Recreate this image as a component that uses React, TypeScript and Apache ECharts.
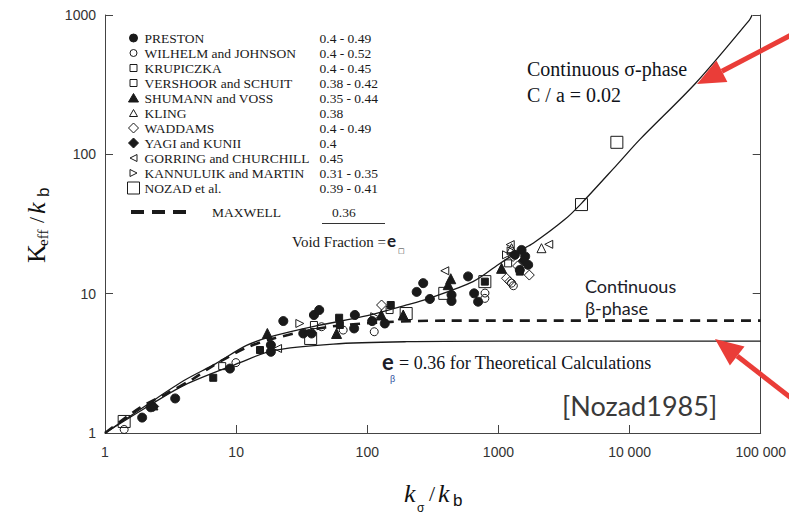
import React, { useEffect, useRef } from "react";
import * as echarts from "echarts";

// ---------- data ----------
const xTickLabels = ["1", "10", "100", "1000", "10 000", "100 000"];
const yTickLabels = ["1", "10", "100", "1000"];

const seriesNames = [
  "PRESTON",
  "WILHELM and JOHNSON",
  "KRUPICZKA",
  "VERSHOOR and SCHUIT",
  "SHUMANN and VOSS",
  "KLING",
  "WADDAMS",
  "YAGI and KUNII",
  "GORRING and CHURCHILL",
  "KANNULUIK and MARTIN",
  "NOZAD et al.",
];
const voidRanges = [
  "0.4 - 0.49",
  "0.4 - 0.52",
  "0.4 - 0.45",
  "0.38 - 0.42",
  "0.35 - 0.44",
  "0.38",
  "0.4 - 0.49",
  "0.4",
  "0.45",
  "0.31 - 0.35",
  "0.39 - 0.41",
];
const maxwellName = "MAXWELL";
const maxwellRange = "0.36";

const prestonData = [
  [1.92, 1.29], [2.23, 1.53], [3.43, 1.77], [8.97, 2.9], [18.4, 4.28], [18.4, 3.83],
  [22.9, 6.36], [32.5, 5.18], [37.6, 5.18], [39.2, 7.03], [43, 7.63], [79.4, 5.63],
  [80.4, 7.03], [109, 6.36], [136, 6.11], [238, 10.3], [267, 11.9], [300, 9.16],
  [439, 9.8], [439, 8.86], [587, 13.3], [653, 10.05], [700, 8.76], [1334, 19],
  [1456, 14.8], [1500, 20.6], [1686, 16.1], [1600, 18.5],
];
const wilhelmData = [
  [1.4, 1.06], [9.96, 3.2], [44.8, 5.79], [65.5, 5.48], [113, 5.33], [788, 9.25],
  [790, 10.1], [1259, 11.9], [1300, 11.4],
];
const krupiczkaData = [[7.83, 3.02], [39.2, 5.96], [148, 7.63], [1186, 16.5]];
const vershoorData = [
  [6.69, 2.49], [15.2, 3.94], [61, 6.72], [61.8, 5.96], [151, 8.29], [788, 12.2],
  [1456, 14.4],
];
const shumannData = [
  [2.32, 1.59], [17.3, 5.18], [58.3, 5.18], [128, 7.03], [188, 7.03], [414, 11.6],
  [433, 12.8], [1057, 15.2],
];
const klingData = [[1259, 21.2], [2130, 21.2]];
const waddamsData = [[128.5, 8.29], [1153, 12.9], [1220, 12.2], [1294, 18.5], [1720, 13.6], [1400, 15.8]];
const yagiData = [[2.35, 1.55], [1545, 17.2]];
const gorringData = [[20.7, 4.04], [390, 14.6], [1230, 22.5], [2420, 22.6]];
const kannuluikData = [[30.6, 6.11], [114, 6.83], [1153, 19], [1250, 20.3]];
const nozadData = [
  [1.4, 1.21], [37, 4.77], [198, 7.2], [390, 10.05], [788, 12.2], [4300, 43.6], [8000, 122],
];

const sigmaPhaseCurve = [
  [1, 1], [2, 1.55], [4, 2.38], [7, 3.15], [12, 4.25], [19, 4.95], [40, 5.85], [100, 6.95],
  [200, 8.3], [300, 9.3], [640, 12.2], [1000, 16.2], [1450, 20.3], [1840, 23], [3200, 34],
  [4300, 44.5], [8000, 84], [12000, 128], [32000, 325], [82000, 920], [86000, 1000],
];
const maxwellCurve = [
  [1, 1], [1.85, 1.52], [2.95, 1.92], [4.7, 2.45], [6.7, 3.05], [12, 4.1], [19, 4.75],
  [49, 5.75], [140, 6.25], [400, 6.4], [100000, 6.4],
];
const betaPhaseCurve = [
  [1, 1], [2, 1.5], [4, 2.2], [10.7, 3.2], [19, 3.9], [55, 4.35], [200, 4.52], [1000, 4.56],
  [100000, 4.56],
];

const datasets = [
  prestonData, wilhelmData, krupiczkaData, vershoorData, shumannData, klingData,
  waddamsData, yagiData, gorringData, kannuluikData, nozadData,
];

// ---------- styles ----------
const INK = "#1a1a1a";
const OPEN = "rgba(0,0,0,0)";
const SERIF = '"Liberation Serif", "Times New Roman", serif';
const SANS = '"Liberation Sans", Arial, sans-serif';
const HUMAN = 'Lato, "Open Sans", sans-serif';
const RED = "#ea3d38";
const PAD = "M0,0M12,12";

const markerDefs = [
  { symbol: "circle", size: 9, fill: INK, icon: `path://${PAD}M2,6A4,4,0,1,1,10,6A4,4,0,1,1,2,6Z` },
  { symbol: "circle", size: 8, fill: OPEN, icon: `path://${PAD}M2.5,6A3.5,3.5,0,1,1,9.5,6A3.5,3.5,0,1,1,2.5,6Z` },
  { symbol: "rect", size: 7, fill: OPEN, icon: `path://${PAD}M2.5,2.5L9.5,2.5L9.5,9.5L2.5,9.5Z` },
  { symbol: "rect", size: 7, fill: INK, icon: `path://${PAD}M2.5,2.5L9.5,2.5L9.5,9.5L2.5,9.5Z`, legendFill: OPEN },
  { symbol: "triangle", size: 10, fill: INK, icon: `path://${PAD}M6,1.5L11,10L1,10Z` },
  { symbol: "triangle", size: 9, fill: OPEN, icon: `path://${PAD}M6,2.5L10,9.5L2,9.5Z` },
  { symbol: "diamond", size: 10, fill: OPEN, icon: `path://${PAD}M6,1L11,6L6,11L1,6Z` },
  { symbol: "diamond", size: 10, fill: INK, icon: `path://${PAD}M6,1L11,6L6,11L1,6Z` },
  { symbol: "path://M10,0L0,5L10,10Z", size: 8, fill: OPEN, icon: `path://${PAD}M9.5,2.5L2.5,6L9.5,9.5Z` },
  { symbol: "path://M0,0L10,5L0,10Z", size: 8, fill: OPEN, icon: `path://${PAD}M2.5,2.5L9.5,6L2.5,9.5Z` },
  { symbol: "rect", size: 12, fill: OPEN, icon: "rect" },
];

function buildOption() {
  const scatterSeries = seriesNames.map((name, i) => ({
    name,
    type: "scatter",
    data: datasets[i],
    symbol: markerDefs[i].symbol,
    symbolSize: markerDefs[i].size,
    itemStyle: { color: markerDefs[i].fill, borderColor: INK, borderWidth: 1, opacity: 1 },
    z: 4,
    silent: true,
  }));

  const curve = (name, data, lineStyle) => ({
    name,
    type: "line",
    data,
    smooth: 0.3,
    symbol: "none",
    lineStyle,
    itemStyle: { color: INK },
    z: 3,
    silent: true,
  });

  const richLegend = {
    n: { width: 175, fontFamily: SERIF, fontSize: 13.5, lineHeight: 15, color: INK },
    v: { fontFamily: SERIF, fontSize: 13.5, lineHeight: 15, color: INK },
    s: { width: 21, fontSize: 13.5, lineHeight: 15 },
    m: { width: 120, fontFamily: SERIF, fontSize: 13.5, lineHeight: 15, color: INK },
  };

  const arrow = (tail, tip, b1, b2) => [
    { type: "line", shape: { x1: tail[0], y1: tail[1], x2: (b1[0] + b2[0]) / 2, y2: (b1[1] + b2[1]) / 2 }, style: { stroke: RED, lineWidth: 5 }, z: 10 },
    { type: "polygon", shape: { points: [tip, b1, b2] }, style: { fill: RED }, z: 10 },
  ];

  const txt = (x, y, text, font, fill = INK, extra = {}) => ({
    type: "text",
    x,
    y,
    style: { text, font, fill, verticalAlign: "middle", align: "left", ...extra },
    z: 8,
  });

  return {
    animation: false,
    backgroundColor: "#fff",
    grid: { left: 105, right: 28, top: 15, bottom: 86, containLabel: false },
    xAxis: {
      type: "log",
      logBase: 10,
      min: 1,
      max: 100000,
      splitNumber: 5,
      axisLine: { show: true, lineStyle: { color: "#444", width: 1 } },
      axisTick: { show: true, inside: true, length: 8, lineStyle: { color: "#444" } },
      minorTick: { show: false },
      splitLine: { show: false },
      axisLabel: {
        margin: 12,
        fontFamily: SANS,
        fontSize: 14,
        color: "#333",
        formatter: (v) => xTickLabels[Math.round(Math.log10(v))],
      },
    },
    yAxis: [
      {
        type: "log",
        logBase: 10,
        min: 1,
        max: 1000,
        splitNumber: 3,
        axisLine: { show: true, lineStyle: { color: "#444", width: 1 } },
        axisTick: { show: true, inside: true, length: 8, lineStyle: { color: "#444" } },
        splitLine: { show: false },
        axisLabel: {
          margin: 9,
          fontFamily: SANS,
          fontSize: 14,
          color: "#333",
          formatter: (v) => yTickLabels[Math.round(Math.log10(v))],
        },
      },
      {
        type: "log",
        logBase: 10,
        min: 1,
        max: 1000,
        splitNumber: 3,
        position: "right",
        axisLine: { show: true, lineStyle: { color: "#444", width: 1 } },
        axisTick: { show: true, inside: true, length: 8, lineStyle: { color: "#444" } },
        splitLine: { show: false },
        axisLabel: { show: false },
      },
    ],
    legend: [
      {
        orient: "vertical",
        left: 127,
        top: 31,
        padding: 0,
        itemGap: 1,
        itemWidth: 12,
        itemHeight: 12,
        selectedMode: false,
        data: seriesNames.map((name, i) => ({
          name,
          icon: markerDefs[i].icon,
          itemStyle: {
            color: markerDefs[i].legendFill ?? markerDefs[i].fill,
            borderColor: INK,
            borderWidth: 1,
          },
        })),
        formatter: (name) => `{n|${name}}{v|${voidRanges[seriesNames.indexOf(name)]}}`,
        textStyle: { rich: richLegend },
      },
      {
        orient: "vertical",
        left: 131,
        top: 205,
        padding: 0,
        itemGap: 0,
        itemWidth: 55,
        itemHeight: 4,
        selectedMode: false,
        data: [
          {
            name: maxwellName,
            icon: "path://M0,0L13,0L13,4L0,4Z M21,0L34,0L34,4L21,4Z M42,0L55,0L55,4L42,4Z",
            itemStyle: { color: INK, borderWidth: 0 },
          },
        ],
        formatter: () => `{s| }{m|${maxwellName}}{v|${maxwellRange}}`,
        textStyle: { rich: richLegend },
      },
    ],
    series: [
      curve("sigma", sigmaPhaseCurve, { color: INK, width: 1.3 }),
      curve("beta", betaPhaseCurve, { color: INK, width: 1.3 }),
      curve(maxwellName, maxwellCurve, { color: INK, width: 2.6, type: [10, 7] }),
      ...scatterSeries,
    ],
    graphic: [
      // underline under Maxwell void fraction
      { type: "line", shape: { x1: 322, y1: 223.5, x2: 385, y2: 223.5 }, style: { stroke: "#333", lineWidth: 1 }, z: 8 },
      txt(292, 241.5, "Void Fraction =", `15px ${SERIF}`),
      txt(387, 240, "e", `bold 17px ${HUMAN}`, "#1c1c28"),
      txt(398, 250.5, "□", `7px "DejaVu Sans", sans-serif`, "#333"),
      // sigma phase annotation
      txt(527, 69, "Continuous σ-phase", `20px ${SERIF}`, "#10131a"),
      txt(527, 95, "C / a = 0.02", `20px ${SERIF}`, "#10131a"),
      // beta phase annotation
      txt(585, 286, "Continuous", `18px ${HUMAN}`, "#1c1c28"),
      txt(585, 308, "β-phase", `18px ${HUMAN}`, "#1c1c28"),
      // e_beta label
      txt(382, 361, "e", `bold 22px ${HUMAN}`, "#1c1c28"),
      txt(390, 379, "β", `9px ${SANS}`, "#3050a0"),
      txt(399, 363, "= 0.36 for Theoretical Calculations", `18px ${SERIF}`, "#10131a"),
      // source
      txt(562, 405, "[Nozad1985]", `27px ${HUMAN}`, "#3a3a3a"),
      // x axis title
      txt(404, 493, "k", `italic 26px ${SERIF}`, "#111"),
      txt(417, 508, "σ", `12px ${SANS}`, "#111"),
      txt(429, 493, "/", `22px ${SERIF}`, "#111"),
      txt(438, 493, "k", `italic 26px ${SERIF}`, "#111"),
      txt(453, 500, "b", `17px ${SANS}`, "#111"),
      // y axis title (rotated)
      {
        type: "group",
        x: 36,
        y: 213,
        rotation: Math.PI / 2,
        children: [
          txt(-50, 0, "K", `26px ${SERIF}`, "#111"),
          txt(-33, 7, "eff", `15px ${SERIF}`, "#111"),
          txt(-10, 0, "/", `22px ${SERIF}`, "#111"),
          txt(-1, 0, "k", `italic 26px ${SERIF}`, "#111"),
          txt(16, 7, "b", `17px ${SANS}`, "#111"),
        ],
      },
      // red arrows
      ...arrow([795, 33], [697, 84], [727.4, 81.9], [716.4, 60.5]),
      ...arrow([795, 401], [715, 339], [744.5, 346.5], [729.9, 365.5]),
    ],
  };
}

export default function App() {
  const ref = useRef(null);
  useEffect(() => {
    const chart = echarts.init(ref.current, null, { renderer: "svg" });
    chart.setOption(buildOption());
    return () => chart.dispose();
  }, []);
  return (
    <div
      ref={ref}
      style={{ position: "fixed", left: 0, top: 0, width: 789, height: 519, background: "#fff" }}
    />
  );
}
